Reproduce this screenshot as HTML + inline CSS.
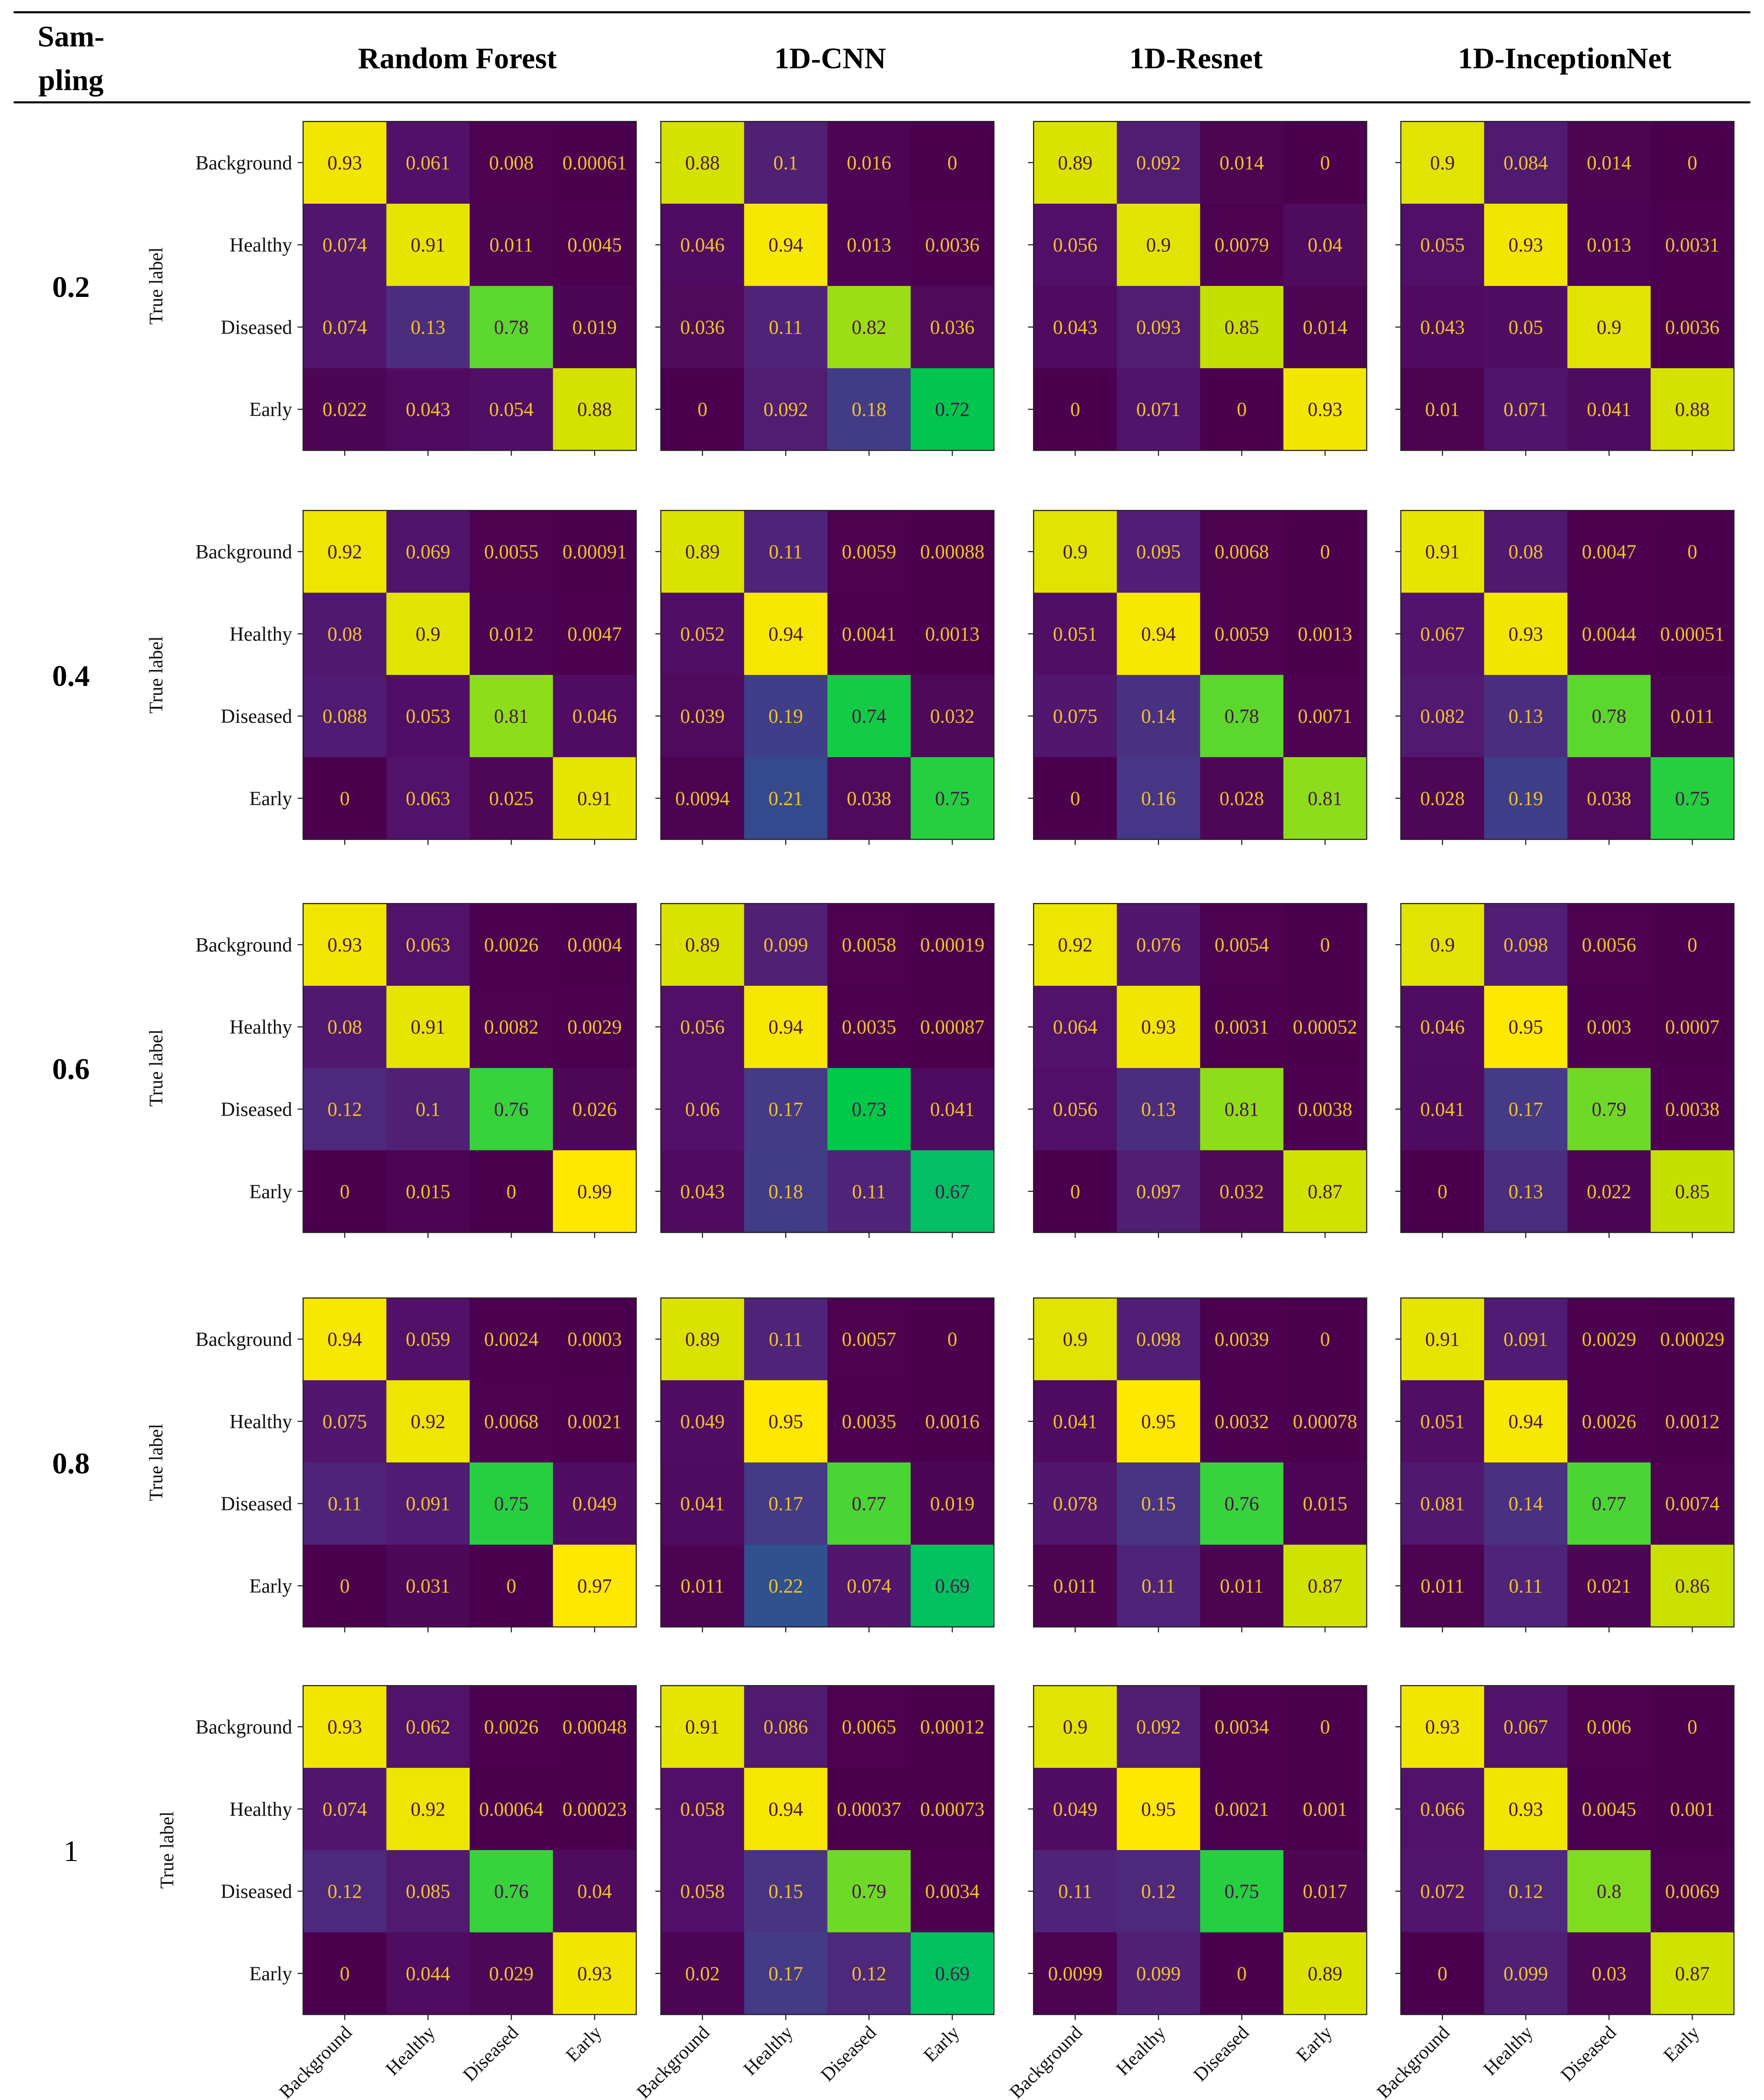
<!DOCTYPE html>
<html><head><meta charset="utf-8">
<style>
html,body{margin:0;padding:0;background:#fff;width:4199px;height:5102px;overflow:hidden;}
svg{display:block;position:absolute;left:0;top:0;}
</style></head>
<body>
<svg id="fig" xmlns="http://www.w3.org/2000/svg" width="4199" height="5102" viewBox="0 0 1292 1570" preserveAspectRatio="none" font-family="'Liberation Serif', serif">
<rect x="0" y="0" width="1292" height="1570" fill="#fff"/>
<line x1="10" y1="9" x2="1282" y2="9" stroke="#000" stroke-width="1.5"/>
<line x1="10" y1="75" x2="1282" y2="75" stroke="#000" stroke-width="1.5"/>
<text font-weight="bold" font-size="22" x="52" y="34" text-anchor="middle">Sam-</text>
<text font-weight="bold" font-size="22" x="52" y="66" text-anchor="middle">pling</text>
<text font-weight="bold" font-size="22" x="335" y="50" text-anchor="middle">Random Forest</text>
<text font-weight="bold" font-size="22" x="608" y="50" text-anchor="middle">1D-CNN</text>
<text font-weight="bold" font-size="22" x="876" y="50" text-anchor="middle">1D-Resnet</text>
<text font-weight="bold" font-size="22" x="1146" y="50" text-anchor="middle">1D-InceptionNet</text>
<g id="plots"></g>
</svg>
<script>
const classes = ["Background","Healthy","Diseased","Early"];
const samplingLabels = ["0.2","0.4","0.6","0.8","1"];
const modelNames = ["random-forest","1d-cnn","1d-resnet","1d-inceptionnet"];
const s02 = [
 [[0.93,0.061,0.008,0.00061],[0.074,0.91,0.011,0.0045],[0.074,0.13,0.78,0.019],[0.022,0.043,0.054,0.88]],
 [[0.88,0.1,0.016,0],[0.046,0.94,0.013,0.0036],[0.036,0.11,0.82,0.036],[0,0.092,0.18,0.72]],
 [[0.89,0.092,0.014,0],[0.056,0.9,0.0079,0.04],[0.043,0.093,0.85,0.014],[0,0.071,0,0.93]],
 [[0.9,0.084,0.014,0],[0.055,0.93,0.013,0.0031],[0.043,0.05,0.9,0.0036],[0.01,0.071,0.041,0.88]]
];
const s04 = [
 [[0.92,0.069,0.0055,0.00091],[0.08,0.9,0.012,0.0047],[0.088,0.053,0.81,0.046],[0,0.063,0.025,0.91]],
 [[0.89,0.11,0.0059,0.00088],[0.052,0.94,0.0041,0.0013],[0.039,0.19,0.74,0.032],[0.0094,0.21,0.038,0.75]],
 [[0.9,0.095,0.0068,0],[0.051,0.94,0.0059,0.0013],[0.075,0.14,0.78,0.0071],[0,0.16,0.028,0.81]],
 [[0.91,0.08,0.0047,0],[0.067,0.93,0.0044,0.00051],[0.082,0.13,0.78,0.011],[0.028,0.19,0.038,0.75]]
];
const s06 = [
 [[0.93,0.063,0.0026,0.0004],[0.08,0.91,0.0082,0.0029],[0.12,0.1,0.76,0.026],[0,0.015,0,0.99]],
 [[0.89,0.099,0.0058,0.00019],[0.056,0.94,0.0035,0.00087],[0.06,0.17,0.73,0.041],[0.043,0.18,0.11,0.67]],
 [[0.92,0.076,0.0054,0],[0.064,0.93,0.0031,0.00052],[0.056,0.13,0.81,0.0038],[0,0.097,0.032,0.87]],
 [[0.9,0.098,0.0056,0],[0.046,0.95,0.003,0.0007],[0.041,0.17,0.79,0.0038],[0,0.13,0.022,0.85]]
];
const s08 = [
 [[0.94,0.059,0.0024,0.0003],[0.075,0.92,0.0068,0.0021],[0.11,0.091,0.75,0.049],[0,0.031,0,0.97]],
 [[0.89,0.11,0.0057,0],[0.049,0.95,0.0035,0.0016],[0.041,0.17,0.77,0.019],[0.011,0.22,0.074,0.69]],
 [[0.9,0.098,0.0039,0],[0.041,0.95,0.0032,0.00078],[0.078,0.15,0.76,0.015],[0.011,0.11,0.011,0.87]],
 [[0.91,0.091,0.0029,0.00029],[0.051,0.94,0.0026,0.0012],[0.081,0.14,0.77,0.0074],[0.011,0.11,0.021,0.86]]
];
const s10 = [
 [[0.93,0.062,0.0026,0.00048],[0.074,0.92,0.00064,0.00023],[0.12,0.085,0.76,0.04],[0,0.044,0.029,0.93]],
 [[0.91,0.086,0.0065,0.00012],[0.058,0.94,0.00037,0.00073],[0.058,0.15,0.79,0.0034],[0.02,0.17,0.12,0.69]],
 [[0.9,0.092,0.0034,0],[0.049,0.95,0.0021,0.001],[0.11,0.12,0.75,0.017],[0.0099,0.099,0,0.89]],
 [[0.93,0.067,0.006,0],[0.066,0.93,0.0045,0.001],[0.072,0.12,0.8,0.0069],[0,0.099,0.03,0.87]]
];
const allData = [s02,s04,s06,s08,s10];

const rowTop = [89,374,662,951,1235];
const colLeft = [222,484,757,1026];
const MW = 244, MH = 241;
const stops = [[0,"#4b004f"],[0.03,"#4e0858"],[0.06,"#52106a"],[0.11,"#4f2478"],[0.15,"#473584"],[0.19,"#403e88"],[0.22,"#30508e"],[0.4,"#1f8a8c"],[0.6,"#10b870"],[0.69,"#00c060"],[0.73,"#00c848"],[0.76,"#38d23c"],[0.8,"#80dc20"],[0.85,"#c4e000"],[0.9,"#e0e400"],[0.95,"#fee800"],[1,"#fee800"]];
function hex(h){return [1,3,5].map(i=>parseInt(h.substr(i,2),16));}
function cmap(v){
  for(let i=1;i<stops.length;i++){
    if(v<=stops[i][0]){
      const a=stops[i-1],b=stops[i];const t=(v-a[0])/(b[0]-a[0]||1);
      const ca=hex(a[1]),cb=hex(b[1]);
      return "rgb("+ca.map((c,k)=>Math.round(c+(cb[k]-c)*t)).join(",")+")";
    }
  }
  return stops[stops.length-1][1];
}
const NS="http://www.w3.org/2000/svg";
const root=document.getElementById("plots");
function mk(tag,attrs,parent){const e=document.createElementNS(NS,tag);for(const k in attrs)e.setAttribute(k,attrs[k]);(parent||root).appendChild(e);return e;}
const xScale=(x0,j)=>x0+(j+0.5)*MW/4;
const yScale=(y0,i)=>y0+(i+0.5)*MH/4;

allData.forEach((rowData,r)=>{
  const y0=rowTop[r];
  const lbl=mk("text",{x:52,y:y0+MH/2+8,"text-anchor":"middle","font-size":22,"font-weight":r<4?"bold":"normal"});
  
  
  lbl.textContent=samplingLabels[r];
  rowData.forEach((mat,m)=>{
    const x0=colLeft[m];
    const g=mk("g",{});
    
    
    mat.forEach((rowv,i)=>rowv.forEach((v,j)=>{
      const cx=xScale(x0,j), cy=yScale(y0,i);
      const c=mk("rect",{x:cx-MW/8,y:cy-MH/8,width:MW/4+0.3,height:MH/4+0.3,fill:cmap(v)},g);
      
      
      const t=mk("text",{x:cx,y:cy+5,"text-anchor":"middle","font-size":14.5,fill:v>0.5?"#4a1448":"#f0c22a"},g);
      
      
      t.textContent=String(v);
    }));
    const b=mk("rect",{x:x0,y:y0,width:MW,height:MH,fill:"none",stroke:"#222","stroke-width":0.8},g);
    
    
    for(let k=0;k<4;k++){
      const tb=mk("line",{x1:xScale(x0,k),x2:xScale(x0,k),y1:y0+MH,y2:y0+MH+4,stroke:"#222","stroke-width":0.8},g);
      
      
      const tl=mk("line",{x1:x0-4,x2:x0,y1:yScale(y0,k),y2:yScale(y0,k),stroke:"#222","stroke-width":0.8},g);
      
      
    }
    if(m===0){
      classes.forEach((cl,k)=>{
        const t=mk("text",{x:x0-8,y:yScale(y0,k)+5,"text-anchor":"end","font-size":14.5,fill:"#111"},g);
        
        
        t.textContent=cl;
      });
      const tx=r<4?119:127, ty=y0+MH/2;
      const yt=mk("text",{x:tx,y:ty,"text-anchor":"middle","font-size":14,transform:"rotate(-90 "+tx+" "+ty+")",fill:"#111"},g);
      
      
      yt.textContent="True label";
    }
    if(r===4){
      classes.forEach((cl,k)=>{
        const px=xScale(x0,k)+6, py=y0+MH+14;
        const t=mk("text",{x:px,y:py,"text-anchor":"end","font-size":14,fill:"#111",transform:"rotate(-45 "+px+" "+py+")"},g);
        
        
        t.textContent=cl;
      });
      const xt=mk("text",{x:x0+MW/2,y:1557,"text-anchor":"middle","font-size":14,fill:"#111"},g);
      
      
      xt.textContent="Predicted label";
    }
  });
});
</script>
</body></html>
